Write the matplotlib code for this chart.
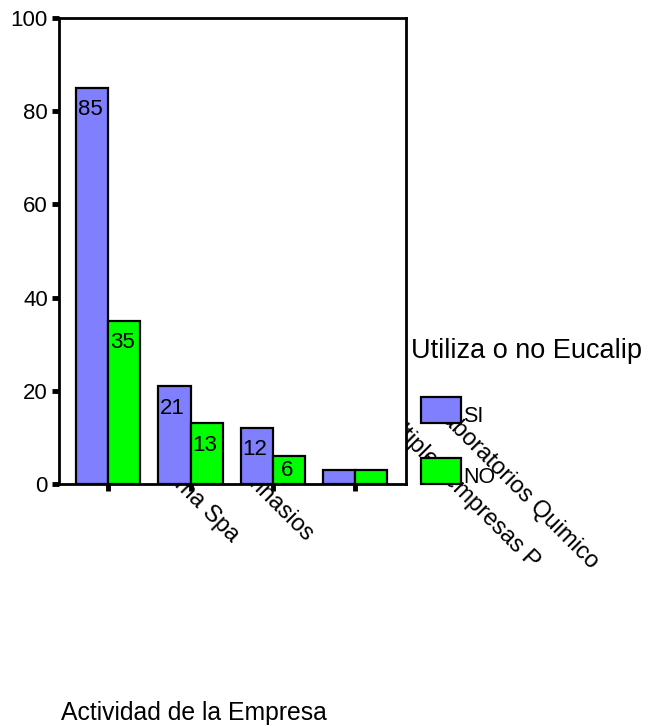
import matplotlib
matplotlib.use("Agg")
import matplotlib.pyplot as plt
from matplotlib.patches import Rectangle
import numpy as np

plt.rcParams["font.family"] = ["Liberation Sans", "DejaVu Sans"]

# --- data -------------------------------------------------------------
group_labels = ["", "Aroma Spa", "Gimnasios", "Multiples empresas P", "Laboratorios Quimico"]
si_values = [85, 21, 12, 3]
no_values = [35, 13, 6, 3]
series_names = ["SI", "NO"]
legend_title = "Utiliza o no Eucalip"
x_title = "Actividad de la Empresa"
y_ticks = [0, 20, 40, 60, 80, 100]

# --- figure -----------------------------------------------------------
W, H = 651, 726
fig = plt.figure(figsize=(W / 100, H / 100), dpi=100)


def fx(px):
    return px / W


def fy(py):
    return 1 - py / H


left, right, top, bottom = 59, 406, 18, 484
ax = fig.add_axes([fx(left), fy(bottom), fx(right - left), (bottom - top) / H])
ax.set_zorder(1)

SI_COLOR = "#8080ff"
NO_COLOR = "#00ff00"

x = np.arange(len(si_values))
w = 0.39
ax.bar(x - w / 2, si_values, w, color=SI_COLOR, edgecolor="black", linewidth=1.6)
ax.bar(x + w / 2, no_values, w, color=NO_COLOR, edgecolor="black", linewidth=1.6)

# value labels inside the top of each bar
for xs, vals in ((x - w / 2, si_values), (x + w / 2, no_values)):
    for xi, v in zip(xs, vals):
        if v < 5:
            continue
        yc = max(v - 4.7, 2.8)
        ax.annotate(str(v), (xi, yc), xytext=(-1.5, 0), textcoords="offset points",
                    ha="center", va="center", fontsize=16, color="black")

ax.set_xlim(-0.6, 3.62)
ax.set_ylim(0, 100)
ax.set_yticks(y_ticks)
ax.set_xticks(x)
ax.set_xticklabels([])
ax.tick_params(axis="both", direction="out", length=5, width=3.5, color="black",
               labelsize=16, pad=3)
for s in ax.spines.values():
    s.set_linewidth(2)

# category names, rotated; the parts falling on the plot or legend are covered
label_anchor_px = [None, (235, 539), (310, 539), (536, 565), (595, 565)]
for txt, pos in zip(group_labels, label_anchor_px):
    if pos is None or not txt:
        continue
    fig.text(fx(pos[0]), fy(pos[1]), txt, rotation=-45, rotation_mode="anchor",
             ha="right", va="center", fontsize=17, zorder=0.5)

# legend
fig.text(fx(411), fy(358), legend_title, fontsize=19.5, ha="left", va="baseline", zorder=3)
for (name, color, ytop) in ((series_names[0], SI_COLOR, 397), (series_names[1], NO_COLOR, 458)):
    fig.patches.append(Rectangle((fx(421), fy(ytop + 26)), fx(40), 26 / H, transform=fig.transFigure,
                                 facecolor=color, edgecolor="black", linewidth=1.6, zorder=2))
    fig.text(fx(463), fy(ytop + 25), name, fontsize=15.5, ha="left", va="baseline", zorder=3)

# axis title
fig.text(fx(61), fy(720), x_title, fontsize=17.8, ha="left", va="baseline")

fig.savefig("out.png", dpi=100, facecolor="white")
